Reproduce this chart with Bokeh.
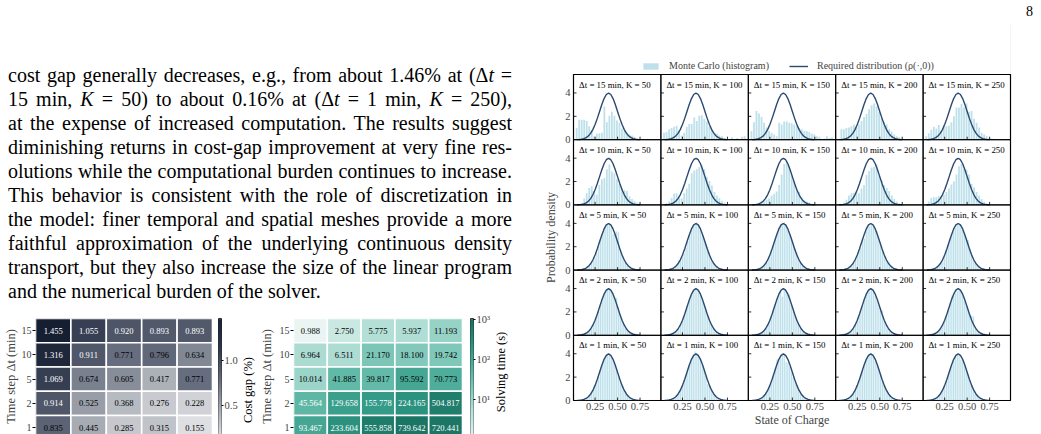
import numpy as np
from bokeh.plotting import figure
from bokeh.models import (Range1d, FixedTicker, ColumnDataSource, Legend, LegendItem, Div)
from bokeh.layouts import row, column
from bokeh.transform import linear_cmap, log_cmap
from bokeh.embed import file_html
from bokeh.resources import INLINE
from bokeh.core.properties import value

SERIF = "Liberation Serif"

# ------------------------------------------------------------------ data
dt_values = [15, 10, 5, 2, 1]
K_values = [50, 100, 150, 200, 250]

cost_gap_dt15 = [1.455, 1.055, 0.920, 0.893, 0.893]
cost_gap_dt10 = [1.316, 0.911, 0.771, 0.796, 0.634]
cost_gap_dt5 = [1.069, 0.674, 0.605, 0.417, 0.771]
cost_gap_dt2 = [0.914, 0.525, 0.368, 0.276, 0.228]
cost_gap_dt1 = [0.835, 0.445, 0.285, 0.315, 0.155]

solve_time_dt15 = [0.988, 2.750, 5.775, 5.937, 11.193]
solve_time_dt10 = [6.964, 6.511, 21.170, 18.100, 19.742]
solve_time_dt5 = [10.014, 41.885, 39.817, 95.592, 70.773]
solve_time_dt2 = [45.564, 129.658, 155.778, 224.165, 504.817]
solve_time_dt1 = [93.467, 233.604, 555.858, 739.642, 720.441]

cost_gap_ticks = [0.5, 1.0]
cost_gap_tick_labels = ["0.5", "1.0"]
solve_time_ticks = [1, 10, 100, 1000]
solve_time_tick_labels = ["10\u2070", "10\u00b9", "10\u00b2", "10\u00b3"]

soc_ticks = [0.25, 0.50, 0.75]
soc_tick_labels = ["0.25", "0.50", "0.75"]
density_ticks = [0, 2, 4]
density_tick_labels = ["0", "2", "4"]

# required distribution rho(., 0)
curve_x = [0.05, 0.075, 0.10, 0.125, 0.15, 0.175, 0.20, 0.225, 0.25, 0.275, 0.30, 0.325,
           0.35, 0.375, 0.40, 0.425, 0.45, 0.475, 0.50, 0.525, 0.55, 0.575, 0.60, 0.625,
           0.65, 0.675, 0.70, 0.725, 0.75]
curve_y = [0.009, 0.020, 0.044, 0.091, 0.175, 0.317, 0.540, 0.863, 1.295, 1.826, 2.420, 3.011,
           3.521, 3.867, 3.989, 3.867, 3.521, 3.011, 2.420, 1.826, 1.295, 0.863, 0.540, 0.317,
           0.175, 0.091, 0.044, 0.020, 0.009]

# Monte Carlo histograms (bar heights) -- coarse bins for dt = 15, 10 ; fine bins for dt = 5, 2, 1
coarse_bin_start, coarse_bin_step = 0.045, 0.028
fine_bin_start, fine_bin_step = 0.09, 0.02

mc_dt15_K50 = [1.0, 1.7, 1.7, 1.7, 1.6, 1.15, 0.8, 0.3, 0.5, 0.55, 0.6, 2.85, 1.5, 2.05, 2.4, 2.05, 1.65, 1.45, 0.95, 0.75, 0.6, 0.45, 0.35, 0.25, 0, 0, 0, 0, 0, 0, 0, 0, 0, 0]
mc_dt15_K100 = [0.6, 0.65, 0.9, 1.0, 1.1, 1.2, 0.8, 0.35, 0.6, 1.1, 1.35, 1.35, 1.9, 1.6, 2.05, 2.1, 1.8, 1.55, 1.1, 0.9, 0.6, 0.5, 0.35, 0.3, 0.15, 0, 0, 0.2, 0, 0.15, 0, 0.25, 0.3, 0]
mc_dt15_K150 = [0.75, 1.5, 2.45, 2.25, 1.95, 1.45, 1.05, 0.75, 0.6, 0.45, 0.3, 1.45, 1.3, 1.55, 1.55, 1.45, 1.4, 1.3, 1.2, 1.0, 0.9, 0.75, 0.75, 0.65, 0.5, 0.45, 0.3, 0.25, 0, 0.1, 0.3, 0.15, 0.2, 0]
mc_dt15_K200 = [0, 0.9, 0.9, 1.0, 1.05, 1.15, 1.3, 1.05, 1.3, 1.6, 1.95, 2.2, 2.6, 2.95, 3.1, 2.85, 2.35, 1.85, 1.5, 1.3, 0.9, 0.7, 0.45, 0.3, 0.2, 0.1, 0, 0, 0, 0, 0, 0, 0, 0]
mc_dt15_K250 = [0.3, 0.55, 0.85, 1.1, 0.95, 1.25, 0.75, 1.25, 1.15, 1.2, 1.5, 2.0, 2.75, 2.75, 3.05, 2.75, 3.1, 2.4, 2.45, 1.8, 1.45, 1.05, 0.6, 0.45, 0.3, 0.15, 0.1, 0, 0, 0, 0, 0, 0, 0]

mc_dt10_K50 = [0, 0.05, 0.15, 0.55, 1.0, 1.45, 1.6, 1.2, 0.9, 1.7, 2.2, 2.3, 3.05, 3.45, 2.85, 2.7, 2.2, 1.8, 1.45, 1.25, 1.2, 0.75, 0.5, 0.35, 0.2, 0.1, 0, 0, 0, 0, 0, 0, 0, 0]
mc_dt10_K100 = [0, 0.15, 0.3, 0.6, 0.95, 1.0, 0.6, 0.55, 1.0, 1.4, 1.8, 2.7, 2.95, 3.05, 3.25, 3.4, 3.05, 2.4, 2.05, 1.65, 1.1, 0.8, 0.6, 0.35, 0.2, 0, 0, 0, 0, 0, 0, 0, 0, 0]
mc_dt10_K150 = [0, 0, 0.05, 0.1, 0.3, 0.3, 0.45, 0.55, 0.8, 0.95, 1.15, 1.7, 2.6, 3.5, 3.8, 3.3, 2.6, 2.0, 1.35, 1.1, 0.65, 0.4, 0.3, 0.2, 0.1, 0, 0, 0, 0, 0, 0, 0, 0, 0]
mc_dt10_K200 = [0, 0, 0.2, 0.45, 0.8, 1.0, 1.05, 1.1, 1.0, 1.4, 1.7, 2.55, 2.9, 3.2, 3.25, 3.45, 2.5, 2.1, 1.7, 1.45, 1.2, 0.8, 0.5, 0.3, 0.15, 0, 0, 0, 0, 0, 0, 0, 0, 0]
mc_dt10_K250 = [0, 0.3, 0.6, 0.65, 0.65, 0.75, 0.75, 0.9, 1.1, 1.4, 1.75, 2.0, 2.6, 3.3, 3.5, 3.1, 3.0, 2.6, 1.8, 1.5, 1.1, 0.8, 0.5, 0.3, 0.15, 0, 0, 0, 0, 0, 0, 0, 0, 0]

mc_dt5_K50 = [0.02, 0.05, 0.1, 0.15, 0.25, 0.35, 0.55, 0.8, 1.05, 1.5, 2.0, 2.6, 3.1, 3.5, 3.8, 3.95, 4.0, 3.7, 3.1, 3.3, 3.3, 3.25, 1.8, 1.3, 0.9, 0.6, 0.4, 0.25, 0.15, 0.08, 0.04, 0.02]
mc_dt5_K100 = [0.02, 0.04, 0.08, 0.15, 0.25, 0.5, 0.85, 0.9, 1.1, 1.4, 1.9, 2.5, 3.0, 3.5, 3.75, 3.95, 4.1, 3.8, 3.4, 3.0, 2.7, 2.3, 2.0, 1.5, 1.0, 0.7, 0.45, 0.3, 0.15, 0.1, 0.05, 0.02]
mc_dt5_K150 = [0.02, 0.05, 0.1, 0.2, 0.3, 0.45, 0.7, 0.95, 1.3, 1.7, 2.2, 2.7, 3.2, 3.6, 3.9, 4.0, 4.1, 3.9, 3.4, 3.1, 2.8, 2.3, 1.9, 1.5, 1.0, 0.7, 0.45, 0.3, 0.2, 0.1, 0.05, 0.02]
mc_dt5_K200 = [0.02, 0.04, 0.08, 0.15, 0.25, 0.4, 0.6, 0.9, 1.2, 1.6, 1.9, 2.6, 2.7, 3.3, 3.7, 3.8, 3.9, 3.7, 3.5, 3.35, 2.6, 2.1, 1.7, 1.2, 0.9, 0.6, 0.4, 0.25, 0.15, 0.08, 0.04, 0.02]
mc_dt5_K250 = [0.02, 0.05, 0.1, 0.18, 0.28, 0.45, 0.65, 0.95, 1.3, 1.75, 2.2, 2.7, 3.1, 3.3, 3.6, 3.9, 3.9, 3.7, 3.4, 3.1, 2.75, 2.6, 1.9, 1.35, 0.95, 0.65, 0.45, 0.3, 0.18, 0.1, 0.05, 0.02]

mc_dt2_K50 = [0.02, 0.05, 0.1, 0.15, 0.25, 0.4, 0.6, 0.9, 1.25, 1.65, 2.1, 2.6, 3.1, 3.5, 3.8, 3.95, 3.95, 3.85, 3.5, 3.2, 3.2, 2.4, 1.8, 1.3, 0.9, 0.6, 0.4, 0.25, 0.15, 0.08, 0.04, 0.02]
mc_dt2_K100 = [0.02, 0.04, 0.09, 0.16, 0.27, 0.42, 0.62, 0.9, 1.25, 1.7, 2.15, 2.6, 3.1, 3.5, 3.85, 4.0, 3.95, 3.8, 3.45, 3.1, 2.7, 2.2, 1.7, 1.3, 0.95, 0.65, 0.44, 0.28, 0.17, 0.1, 0.05, 0.02]
mc_dt2_K150 = [0.02, 0.05, 0.1, 0.17, 0.28, 0.45, 0.65, 0.95, 1.3, 1.7, 2.2, 2.65, 3.1, 3.5, 3.7, 3.3, 3.9, 3.8, 3.5, 3.5, 2.7, 2.2, 1.7, 1.3, 0.95, 0.65, 0.44, 0.28, 0.17, 0.1, 0.05, 0.02]
mc_dt2_K200 = [0.02, 0.04, 0.08, 0.15, 0.25, 0.4, 0.6, 0.9, 1.2, 1.6, 2.1, 2.6, 3.1, 3.5, 3.8, 3.85, 3.9, 3.75, 3.4, 3.0, 2.55, 2.3, 2.1, 1.3, 0.9, 0.6, 0.4, 0.25, 0.15, 0.08, 0.04, 0.02]
mc_dt2_K250 = [0.02, 0.05, 0.1, 0.17, 0.28, 0.45, 0.65, 0.95, 1.3, 1.7, 2.2, 2.8, 3.4, 3.5, 3.6, 3.8, 3.9, 3.75, 3.4, 3.0, 2.6, 2.2, 1.8, 1.65, 1.6, 0.7, 0.45, 0.28, 0.17, 0.1, 0.05, 0.02]

mc_dt1_K50 = [0.03, 0.06, 0.1, 0.17, 0.28, 0.43, 0.65, 0.93, 1.28, 1.7, 2.15, 2.65, 3.1, 3.45, 3.8, 3.95, 3.95, 3.75, 3.5, 3.1, 2.7, 2.15, 1.65, 1.28, 0.93, 0.65, 0.43, 0.28, 0.17, 0.1, 0.06, 0.03]
mc_dt1_K100 = [0.03, 0.06, 0.1, 0.18, 0.3, 0.45, 0.68, 0.95, 1.3, 1.75, 2.2, 2.7, 3.15, 3.55, 3.9, 4.2, 4.0, 3.8, 3.45, 3.05, 2.6, 2.1, 1.4, 1.2, 0.9, 0.62, 0.42, 0.27, 0.16, 0.1, 0.05, 0.03]
mc_dt1_K150 = [0.03, 0.06, 0.11, 0.19, 0.3, 0.46, 0.7, 1.0, 1.35, 1.8, 2.3, 2.8, 3.5, 3.5, 3.6, 3.9, 4.0, 3.3, 3.2, 2.9, 2.4, 2.0, 1.6, 1.25, 0.9, 0.62, 0.42, 0.27, 0.16, 0.1, 0.05, 0.03]
mc_dt1_K200 = [0.03, 0.06, 0.1, 0.18, 0.29, 0.44, 0.66, 0.95, 1.3, 1.72, 2.2, 2.68, 3.12, 3.5, 3.82, 3.98, 3.96, 3.8, 3.5, 3.1, 2.65, 2.15, 1.7, 1.28, 0.92, 0.64, 0.43, 0.28, 0.17, 0.1, 0.06, 0.03]
mc_dt1_K250 = [0.03, 0.06, 0.1, 0.17, 0.28, 0.43, 0.64, 0.92, 1.27, 1.7, 2.16, 2.65, 3.1, 3.5, 3.8, 3.9, 3.85, 3.5, 3.45, 3.1, 2.7, 2.2, 1.72, 1.3, 0.95, 0.66, 0.44, 0.28, 0.17, 0.1, 0.06, 0.03]

hist_table = {
    (15, 50): mc_dt15_K50, (15, 100): mc_dt15_K100, (15, 150): mc_dt15_K150, (15, 200): mc_dt15_K200, (15, 250): mc_dt15_K250,
    (10, 50): mc_dt10_K50, (10, 100): mc_dt10_K100, (10, 150): mc_dt10_K150, (10, 200): mc_dt10_K200, (10, 250): mc_dt10_K250,
    (5, 50): mc_dt5_K50, (5, 100): mc_dt5_K100, (5, 150): mc_dt5_K150, (5, 200): mc_dt5_K200, (5, 250): mc_dt5_K250,
    (2, 50): mc_dt2_K50, (2, 100): mc_dt2_K100, (2, 150): mc_dt2_K150, (2, 200): mc_dt2_K200, (2, 250): mc_dt2_K250,
    (1, 50): mc_dt1_K50, (1, 100): mc_dt1_K100, (1, 150): mc_dt1_K150, (1, 200): mc_dt1_K200, (1, 250): mc_dt1_K250,
}

para_lines = [
    "cost gap generally decreases, e.g., from about 1.46% at (&Delta;<i>t</i> =",
    "15 min, <i>K</i> = 50) to about 0.16% at (&Delta;<i>t</i> = 1 min, <i>K</i> = 250),",
    "at the expense of increased computation. The results suggest",
    "diminishing returns in cost-gap improvement at very fine res-",
    "olutions while the computational burden continues to increase.",
    "This behavior is consistent with the role of discretization in",
    "the model: finer temporal and spatial meshes provide a more",
    "faithful approximation of the underlying continuous density",
    "transport, but they also increase the size of the linear program",
    "and the numerical burden of the solver.",
]


# ------------------------------------------------------------------ helpers
def ramp(anchors, n=256):
    pos = np.linspace(0, 1, len(anchors))
    rgb = np.array([[int(a[i:i + 2], 16) for i in (1, 3, 5)] for a in anchors], float)
    out = []
    for t in np.linspace(0, 1, n):
        c = [int(round(np.interp(t, pos, rgb[:, k]))) for k in range(3)]
        out.append("#%02x%02x%02x" % tuple(c))
    return out


gray_pal = ramp(["#dedfe2", "#a0a5ae", "#5f6778", "#2c3449", "#161e31"])
teal_pal = ramp(["#eaf5f3", "#b3dfd6", "#6bbfae", "#2f9885", "#166e5e"])

BAR_COLOR, BAR_ALPHA = "#add8e6", 0.8
CURVE_COLOR = "#2b4a70"


def base_fig(**kw):
    p = figure(output_backend="svg", toolbar_location=None, **kw)
    p.grid.visible = False
    p.outline_line_color = None
    p.background_fill_color = None
    p.border_fill_color = None
    return p


def vlabel(text, w, h, cy, size):
    html = ('<div style="position:relative;width:%dpx;height:%dpx;">'
            '<div style="position:absolute;left:%.1fpx;top:%.1fpx;transform:translate(-50%%,-50%%) rotate(-90deg);'
            'white-space:nowrap;font-family:\'Liberation Serif\',serif;font-size:%.1fpx;line-height:1;color:#000;">%s</div></div>'
            % (w, h, w / 2.0, cy, size, text))
    return Div(text=html, width=w, height=h, margin=0)


def heatmap(rows_vals, cmap, fmt_white, width, left, label_standoff):
    xs, ys, vs, labs, tc = [], [], [], [], []
    for i, (dt, vals) in enumerate(zip(dt_values, rows_vals)):
        for j, v in enumerate(vals):
            xs.append(j + 0.5)
            ys.append(4.5 - i)
            vs.append(v)
            labs.append("%.3f" % v)
            tc.append("white" if fmt_white(dt, v) else "black")
    src = ColumnDataSource(dict(x=xs, y=ys, v=vs, lab=labs, tc=tc))
    p = base_fig(width=width, height=124, x_range=Range1d(0, 5), y_range=Range1d(0.215, 5),
                 x_axis_location=None, min_border_left=left, min_border_right=0,
                 min_border_top=8, min_border_bottom=0)
    p.rect(x="x", y="y", width=1, height=1, source=src, fill_color=cmap,
           line_color="white", line_width=1.6)
    p.text(x="x", y="y", text="lab", text_color="tc", source=src, text_align="center",
           text_baseline="middle", text_font=value(SERIF), text_font_size="8.5px")
    ax = p.yaxis[0]
    ax.ticker = FixedTicker(ticks=[4.5 - i for i in range(5)])
    ax.major_label_overrides = {4.5 - i: str(dt) for i, dt in enumerate(dt_values)}
    ax.major_label_text_font = SERIF
    ax.major_label_text_font_size = "10px"
    ax.major_tick_out = 3
    ax.major_tick_in = 0
    ax.major_label_standoff = 1
    ax.minor_tick_line_color = None
    ax.axis_line_color = None
    ax.axis_label = "Time step \u0394t (min)"
    ax.axis_label_text_font = SERIF
    ax.axis_label_text_font_style = "normal"
    ax.axis_label_text_font_size = "12.5px"
    ax.axis_label_standoff = label_standoff
    return p


def colorbar_fig(levels, cmap, y_range, ticks, tick_labels, width, left, right, log=False):
    kw = dict(y_axis_type="log") if log else {}
    p = base_fig(width=width, height=124, x_range=Range1d(0, 1), y_range=y_range,
                 x_axis_location=None, y_axis_location="right",
                 min_border_left=left, min_border_right=right, min_border_top=8,
                 min_border_bottom=0, **kw)
    lv = np.asarray(levels)
    src = ColumnDataSource(dict(b=lv[:-1], t=lv[1:], m=(lv[:-1] * lv[1:]) ** 0.5 if log else (lv[:-1] + lv[1:]) / 2))
    p.quad(left=0, right=1, bottom="b", top="t", source=src, fill_color=cmap, line_color=cmap, line_width=0.6)
    p.outline_line_color = "black"
    p.outline_line_width = 0.8
    ax = p.yaxis[0]
    ax.ticker = FixedTicker(ticks=ticks)
    ax.major_label_overrides = {t: l for t, l in zip(ticks, tick_labels)}
    ax.major_label_text_font = SERIF
    ax.major_label_text_font_size = "10.5px"
    ax.major_tick_out = 2
    ax.major_tick_in = 0
    ax.major_label_standoff = 1
    ax.minor_tick_line_color = None
    ax.axis_line_color = None
    return p


# ------------------------------------------------------------------ heatmaps
cost_rows = [cost_gap_dt15, cost_gap_dt10, cost_gap_dt5, cost_gap_dt2, cost_gap_dt1]
time_rows = [solve_time_dt15, solve_time_dt10, solve_time_dt5, solve_time_dt2, solve_time_dt1]

cg_lo, cg_hi = min(min(r) for r in cost_rows), max(max(r) for r in cost_rows)
cost_cmap = linear_cmap("v", gray_pal, cg_lo, cg_hi)
hm1 = heatmap(cost_rows, cost_cmap, lambda dt, v: v > 0.85, 212, 35, 1)
cb1 = colorbar_fig(np.linspace(cg_lo, cg_hi, 161), linear_cmap("m", gray_pal, cg_lo, cg_hi),
                   Range1d(0.18, 1.466), cost_gap_ticks, cost_gap_tick_labels, 28, 6, 16)
lab1 = vlabel("Cost gap (%)", 16, 124, 80, 12.5)

time_cmap = log_cmap("v", teal_pal, 1, 1000)
hm2 = heatmap(time_rows, time_cmap, lambda dt, v: dt <= 2, 206, 34, 3)
cb2 = colorbar_fig(np.logspace(0, 3, 161), log_cmap("m", teal_pal, 1, 1000),
                   Range1d(10 ** 0.125, 10 ** 3.025), solve_time_ticks, solve_time_tick_labels,
                   31, 8, 18, log=True)
lab2 = vlabel("Solving time (s)", 16, 124, 62, 12.5)

# ------------------------------------------------------------------ paragraph
line_divs = "".join(
    '<div style="text-align:justify;text-align-last:justify;white-space:nowrap;">%s</div>' % l
    for l in para_lines[:-1]) + '<div style="white-space:nowrap;">%s</div>' % para_lines[-1]
para = Div(text=('<div style="font-family:\'Liberation Serif\',serif;font-size:20px;line-height:24px;'
                 'color:#000;width:504px;margin-left:8px;padding-top:39px;">%s</div>' % line_divs),
           width=530, height=286, margin=0)

page_no = Div(text=('<div style="font-family:\'Liberation Serif\',serif;font-size:14px;line-height:24px;'
                    'color:#000;width:1041px;text-align:right;box-sizing:border-box;padding-right:8px;">8</div>'),
              width=1041, height=24, margin=0)

# ------------------------------------------------------------------ 5x5 grid of densities
panel_w, panel_h, x0 = 0.972, 5.58, 0.01
frame_w_px, frame_h_px = 437, 326
px_x = frame_w_px / (5 * panel_w)
px_y = frame_h_px / (5 * panel_h)

grid = base_fig(width=511, height=360, x_range=Range1d(x0, x0 + 5 * panel_w),
                y_range=Range1d(0, 5 * panel_h), min_border_left=43, min_border_right=31,
                min_border_top=0, min_border_bottom=34)

bx, bw, btop, bbot = [], [], [], []
cxs, cys = [], []
px_, py_ = [], []
tx, ty, tt = [], [], []
sx0, sy0, sx1, sy1 = [], [], [], []
for r, dt in enumerate(dt_values):
    yoff = (4 - r) * panel_h
    for c, K in enumerate(K_values):
        xoff = c * panel_w
        hist = hist_table[(dt, K)]
        if dt >= 10:
            start, step, w = coarse_bin_start, coarse_bin_step, 0.020
        else:
            start, step, w = fine_bin_start, fine_bin_step, 0.014
        for k, h in enumerate(hist):
            if h > 0:
                bx.append(xoff + start + k * step)
                bw.append(w)
                bbot.append(yoff)
                btop.append(yoff + h)
        cxs.append([xoff + xv for xv in curve_x])
        cys.append([yoff + yv for yv in curve_y])
        px_.append(xoff + x0 + panel_w / 2)
        py_.append(yoff + panel_h / 2)
        tx.append(xoff + x0 + 5.5 / px_x)
        ty.append(yoff + panel_h - 10.0 / px_y)
        tt.append("\u0394t = %d min, K = %d" % (dt, K))
        for t in soc_ticks:
            sx0.append(xoff + t); sx1.append(xoff + t)
            sy0.append(yoff); sy1.append(yoff + 3.0 / px_y)
        for t in density_ticks[1:]:
            sx0.append(xoff + x0); sx1.append(xoff + x0 + 3.0 / px_x)
            sy0.append(yoff + t); sy1.append(yoff + t)

grid.vbar(x="x", width="w", top="top", bottom="bottom",
          source=ColumnDataSource(dict(x=bx, w=bw, top=btop, bottom=bbot)),
          fill_color=BAR_COLOR, fill_alpha=BAR_ALPHA, line_color=None)
grid.multi_line(xs=cxs, ys=cys, line_color=CURVE_COLOR, line_width=1.4)
grid.rect(x=px_, y=py_, width=panel_w, height=panel_h, fill_color=None, line_color="black", line_width=1)
grid.segment(x0=sx0, y0=sy0, x1=sx1, y1=sy1, line_color="black", line_width=0.8)
grid.text(x=tx, y=ty, text=tt, text_font=value(SERIF), text_font_size="8.9px",
          text_align="left", text_baseline="middle", text_color="black")
grid.outline_line_color = "black"
grid.outline_line_width = 1.2

xt = [c * panel_w + t for c in range(5) for t in soc_ticks]
xl = [l for c in range(5) for l in soc_tick_labels]
yt = [(4 - r) * panel_h + t for r in range(5) for t in density_ticks]
yl = [l for r in range(5) for l in density_tick_labels]
grid.xaxis.ticker = FixedTicker(ticks=xt)
grid.xaxis.major_label_overrides = dict(zip(xt, xl))
grid.yaxis.ticker = FixedTicker(ticks=yt)
grid.yaxis.major_label_overrides = dict(zip(yt, yl))
for ax in (grid.xaxis[0], grid.yaxis[0]):
    ax.major_tick_in = 0
    ax.major_tick_out = 0
    ax.minor_tick_line_color = None
    ax.axis_line_color = None
    ax.major_label_text_font = SERIF
    ax.major_label_text_font_size = "10.5px"
    ax.axis_label_text_font = SERIF
    ax.axis_label_text_font_style = "normal"
    ax.axis_label_text_font_size = "12px"
grid.xaxis.major_label_standoff = 2
grid.xaxis.axis_label = "State of Charge"
grid.xaxis.axis_label_standoff = 0
grid.yaxis.major_label_standoff = 3
grid.yaxis.axis_label = "Probability density"
grid.yaxis.axis_label_standoff = 4

# ------------------------------------------------------------------ legend strip above the grid
# (proxy renderers placed outside the visible range, only used to draw the legend keys)
leg_fig = base_fig(width=511, height=50, x_range=Range1d(0, 1), y_range=Range1d(0, 1),
                   x_axis_location=None, y_axis_location=None, min_border=0)
leg_bar = leg_fig.vbar(x=[5], width=0.1, top=[1], fill_color=BAR_COLOR, fill_alpha=BAR_ALPHA, line_color=None)
leg_line = leg_fig.line(x=[5, 6], y=[0.5, 0.5], line_color=CURVE_COLOR, line_width=1.4)
legend = Legend(items=[LegendItem(label="Monte Carlo (histogram)", renderers=[leg_bar]),
                       LegendItem(label="Required distribution (\u03c1(\u00b7,0))", renderers=[leg_line])],
                orientation="horizontal", location=(68, 3), border_line_color=None,
                background_fill_alpha=0, padding=0, margin=0, spacing=20, label_standoff=9,
                glyph_width=19, glyph_height=8, label_height=10,
                label_text_font=SERIF, label_text_font_size="10px")
leg_fig.add_layout(legend)

# ------------------------------------------------------------------ layout
hm_row = row(hm1, cb1, lab1, hm2, cb2, lab2, spacing=0)
left_col = column(para, hm_row, spacing=0)
right_col = column(leg_fig, grid, spacing=0)
body = row(left_col, right_col, spacing=0)
page = column(page_no, body, spacing=0)

open("out.html", "w").write(file_html(page, INLINE))
